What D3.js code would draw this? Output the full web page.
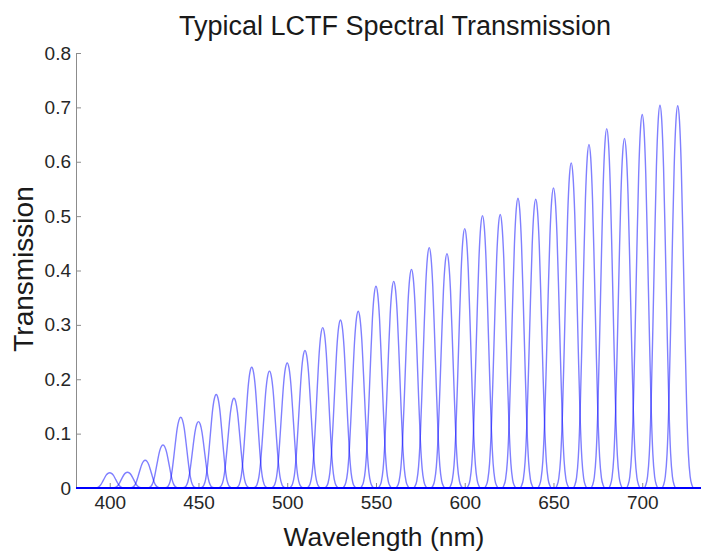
<!DOCTYPE html>
<html>
<head>
<meta charset="utf-8">
<script src="https://cdn.jsdelivr.net/npm/d3@7"></script>
<style>
  body { margin: 0; background: #fff; }
  svg { display: block; font-family: "Liberation Sans", Arial, sans-serif; }
</style>
</head>
<body>
<svg id="chart" width="701" height="555"></svg>
<script>
// peak wavelengths of each tuned band (nm)
const peakNm = [400, 410, 420, 430, 440, 450, 460, 470, 480, 490, 500, 510, 520, 530, 540, 550, 560,
  570, 580, 590, 600, 610, 620, 630, 640, 650, 660, 670, 680, 690, 700, 710, 720];
// peak transmission
const peakT = [0.028, 0.029, 0.051, 0.079, 0.130, 0.122, 0.172, 0.165, 0.222, 0.215, 0.230, 0.253, 0.295,
  0.309, 0.325, 0.371, 0.380, 0.402, 0.442, 0.431, 0.477, 0.501, 0.503, 0.533, 0.531, 0.552, 0.598,
  0.632, 0.661, 0.643, 0.687, 0.704, 0.703];
// passband shape: offset from peak (nm) and relative transmission
const profileOffset = [-9, -8, -7, -6, -5, -4, -3, -2, -1, 0, 1, 2, 3, 4, 5, 6, 7, 8, 9];
const profileRel = [0, 0.008, 0.03, 0.09, 0.22, 0.42, 0.64, 0.84, 0.96, 1, 0.96, 0.84, 0.64, 0.42, 0.22, 0.09, 0.03, 0.008, 0];

const yTicks = [0, 0.1, 0.2, 0.3, 0.4, 0.5, 0.6, 0.7, 0.8];
const xTicks = [400, 450, 500, 550, 600, 650, 700];
const xDomain = [381, 740];

const svg = d3.select("#chart");
const plotLeft = 76, plotBottom = 488, plotTop = 53;
const x = d3.scaleLinear().domain(xDomain).range([plotLeft, plotLeft + (xDomain[1] - xDomain[0]) * 1.775]);
const y = d3.scaleLinear().domain([0, 0.8]).range([plotBottom, plotTop]);

// y axis (ticks point inward)
const yAxis = svg.append("g")
  .attr("transform", `translate(${plotLeft},0)`)
  .call(d3.axisLeft(y).tickValues(yTicks).tickSizeInner(-5).tickSizeOuter(-5).tickPadding(5)
    .tickFormat((d) => (d === 0 ? "0" : d3.format(".1f")(d))));
yAxis.select(".domain").attr("stroke", "#8c8c8c");
yAxis.selectAll(".tick line").attr("stroke", "#8c8c8c");
yAxis.selectAll("text").attr("font-size", 19).attr("fill", "#262626").attr("font-family", null);

// x axis
const xAxis = svg.append("g")
  .attr("transform", `translate(0,${plotBottom})`)
  .call(d3.axisBottom(x).tickValues(xTicks).tickSizeInner(-5).tickSizeOuter(0).tickPadding(8));
xAxis.select(".domain").attr("stroke", "#8c8c8c");
xAxis.selectAll(".tick line").attr("stroke", "#8c8c8c");
xAxis.selectAll("text").attr("font-size", 19).attr("fill", "#262626").attr("font-family", null);

// one curve per band, each spans the full range at zero outside the passband
const line = d3.line()
  .x((d) => x(d[0]))
  .y((d) => y(d[1]))
  .curve(d3.curveMonotoneX);

const curves = peakNm.map((nm, i) => {
  const pts = [[xDomain[0], 0]];
  profileOffset.forEach((o, j) => pts.push([nm + o, peakT[i] * profileRel[j]]));
  pts.push([xDomain[1], 0]);
  return pts;
});

svg.append("g")
  .selectAll("path")
  .data(curves)
  .join("path")
  .attr("d", line)
  .attr("fill", "none")
  .attr("stroke", "#0000ff")
  .attr("stroke-opacity", 0.5)
  .attr("stroke-width", 1.4);

// labels
svg.append("text")
  .attr("x", 395)
  .attr("y", 35)
  .attr("text-anchor", "middle")
  .attr("font-size", 27)
  .attr("fill", "#1a1a1a")
  .text("Typical LCTF Spectral Transmission");

svg.append("text")
  .attr("x", 384)
  .attr("y", 546)
  .attr("text-anchor", "middle")
  .attr("font-size", 26.5)
  .attr("fill", "#1a1a1a")
  .text("Wavelength (nm)");

svg.append("text")
  .attr("transform", "translate(33,269) rotate(-90)")
  .attr("text-anchor", "middle")
  .attr("font-size", 28)
  .attr("fill", "#1a1a1a")
  .text("Transmission");
</script>
</body>
</html>
